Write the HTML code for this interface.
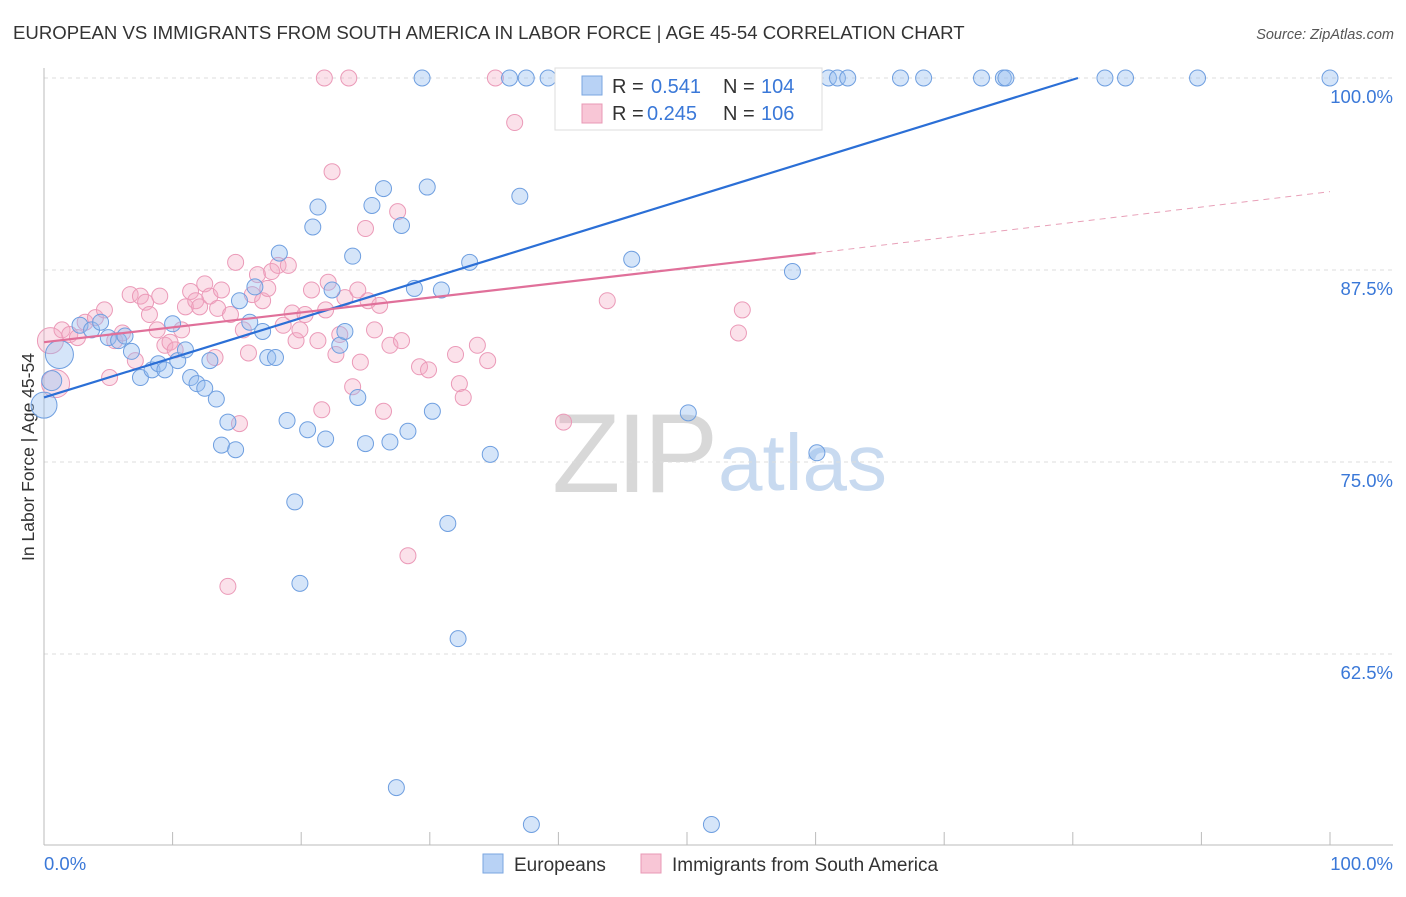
<!DOCTYPE html>
<html><head><meta charset="utf-8"><style>
body{margin:0;background:#fff;font-family:"Liberation Sans",sans-serif;}
svg text{font-family:"Liberation Sans",sans-serif;}
</style></head><body>
<svg id="chart" width="1406" height="892" viewBox="0 0 1406 892" xmlns="http://www.w3.org/2000/svg">
<text x="13" y="39" font-size="18.6" fill="#333">EUROPEAN VS IMMIGRANTS FROM SOUTH AMERICA IN LABOR FORCE | AGE 45-54 CORRELATION CHART</text>
<text x="1394" y="39" font-size="14.5" fill="#555" font-style="italic" text-anchor="end">Source: ZipAtlas.com</text>
<text transform="translate(34,457) rotate(-90)" font-size="17.5" fill="#333" text-anchor="middle">In Labor Force | Age 45-54</text>
<g>
<text x="552" y="492" font-size="112" fill="#d8d8d8" font-family="Liberation Serif" letter-spacing="-4">ZIP</text>
<text x="718" y="490" font-size="80" fill="#c8daf0">atlas</text>
</g>
<g id="grid"></g><g id="axes"></g><g id="pinkPts"></g><g id="bluePts"></g><g id="lines"></g>
<g>
<rect x="555" y="68" width="267" height="62" fill="#fff" stroke="#ddd"/>
<rect x="582" y="76" width="20" height="19" fill="#b8d2f5" stroke="#7aa6e0"/>
<text x="612" y="93" font-size="20" fill="#333">R = </text><text x="651" y="93" font-size="20" fill="#3a78d8">0.541</text>
<text x="723" y="93" font-size="20" fill="#333">N = </text><text x="761" y="93" font-size="20" fill="#3a78d8">104</text>
<rect x="582" y="104" width="20" height="19" fill="#f8c6d6" stroke="#e898b5"/>
<text x="612" y="120" font-size="20" fill="#333">R = </text><text x="647" y="120" font-size="20" fill="#3a78d8">0.245</text>
<text x="723" y="120" font-size="20" fill="#333">N = </text><text x="761" y="120" font-size="20" fill="#3a78d8">106</text>
</g>
<g>
<rect x="483" y="854" width="20" height="19" fill="#b8d2f5" stroke="#7aa6e0"/>
<text x="514" y="871" font-size="19" fill="#333">Europeans</text>
<rect x="641" y="854" width="20" height="19" fill="#f8c6d6" stroke="#e898b5"/>
<text x="672" y="871" font-size="19" fill="#333">Immigrants from South America</text>
</g>
</svg>
<script>
const yTicks=[100,87.5,75,62.5];
const yTickLabels=["100.0%","87.5%","75.0%","62.5%"];
const xTickLabels=["0.0%","100.0%"];
const blueX=[0,1.2,0.6,2.8,3.7,4.4,5.0,5.8,6.3,6.8,7.5,8.4,8.9,9.4,10.0,10.4,11.0,11.4,11.9,12.5,12.9,13.4,13.8,14.3,14.9,15.2,16.0,16.4,17.0,17.4,18.0,18.3,18.9,19.5,19.9,20.5,20.9,21.3,21.9,22.4,23.0,23.4,24.0,24.4,25.0,25.5,26.4,26.9,27.4,27.8,28.3,28.8,29.8,30.2,30.9,31.4,32.2,33.1,34.7,37.0,37.9,45.7,50.1,51.9,58.2,60.1,29.4,36.2,37.5,39.2,41.1,42.5,44.2,47.5,47.9,48.3,49.8,54.3,56.1,61.0,61.7,62.5,66.6,68.4,72.9,74.6,74.8,82.5,84.1,89.7,100];
const blueY=[78.7,82.0,80.3,83.9,83.6,84.1,83.1,82.9,83.2,82.2,80.5,81.0,81.4,81.0,84.0,81.6,82.3,80.5,80.1,79.8,81.6,79.1,76.1,77.6,75.8,85.5,84.1,86.4,83.5,81.8,81.8,88.6,77.7,72.4,67.1,77.1,90.3,91.6,76.5,86.2,82.6,83.5,88.4,79.2,76.2,91.7,92.8,76.3,53.8,90.4,77.0,86.3,92.9,78.3,86.2,71.0,63.5,88.0,75.5,92.3,51.4,88.2,78.2,51.4,87.4,75.6,100,100,100,100,100,100,100,100,100,100,100,100,100,100,100,100,100,100,100,100,100,100,100,100,100];
const blueR=[13,14,10];
const pinkX=[0.5,0.9,1.4,2.0,2.6,3.2,4.0,4.7,5.1,5.5,6.1,6.7,7.1,7.5,7.9,8.2,8.8,9.0,9.4,9.8,10.2,10.7,11.0,11.4,11.8,12.1,12.5,12.9,13.3,13.5,13.8,14.5,14.9,15.2,15.5,15.9,16.2,16.6,17.0,17.4,17.7,18.2,18.6,19.0,19.3,19.6,19.9,20.3,20.8,21.3,21.6,21.9,22.1,22.4,22.7,23.0,23.4,24.0,24.4,24.6,25.0,25.2,25.7,26.1,26.4,26.9,27.5,27.8,28.3,29.2,29.9,32.0,32.3,32.6,33.7,34.5,35.1,36.6,40.4,43.8,54.0,54.3,59.5,21.8,23.7,14.3];
const pinkY=[82.9,80.1,83.6,83.3,83.1,84.1,84.4,84.9,80.5,82.9,83.4,85.9,81.6,85.8,85.4,84.6,83.6,85.8,82.6,82.8,82.3,83.6,85.1,86.1,85.5,85.1,86.6,85.8,81.8,85.0,86.2,84.6,88.0,77.5,83.6,82.1,85.9,87.2,85.5,86.3,87.4,87.8,83.9,87.8,84.7,82.9,83.6,84.6,86.2,82.9,78.4,84.9,86.7,93.9,82.0,83.3,85.7,79.9,86.2,81.5,90.2,85.5,83.6,85.2,78.3,82.6,91.3,82.9,68.9,81.2,81.0,82.0,80.1,79.2,82.6,81.6,100,97.1,77.6,85.5,83.4,84.9,100,100,100,66.9];
const pinkR=[13,14];
const blueLine=[79.2,100,80.4];
const pinkLine=[82.8,88.6,60,92.6];
const NS="http://www.w3.org/2000/svg";
const X0=44,X1=1330,Y100=78,PX=15.36;
function sx(v){return X0+(X1-X0)*v/100;}
function sy(v){return Y100+(100-v)*PX;}
function mk(t,a,p){const e=document.createElementNS(NS,t);for(const k in a)e.setAttribute(k,a[k]);p.appendChild(e);return e;}
const grid=document.getElementById('grid'),axes=document.getElementById('axes');
yTicks.forEach((t,i)=>{
 const l=mk('line',{x1:X0,x2:1393,y1:sy(t),y2:sy(t),stroke:'#ddd','stroke-dasharray':'4,4'},grid);
 
 
 const tx=mk('text',{x:1393,y:sy(t)+25,'font-size':18.5,fill:'#3a78d8','text-anchor':'end'},axes);
 tx.textContent=yTickLabels[i];
 
 
});
const ax=mk('line',{x1:X0,x2:X0,y1:68,y2:845,stroke:'#bbb'},axes);


const bx=mk('line',{x1:X0,x2:1393,y1:845,y2:845,stroke:'#bbb'},axes);


for(let i=0;i<=10;i++){const t=mk('line',{x1:sx(i*10),x2:sx(i*10),y1:832,y2:845,stroke:'#bbb'},axes);
 
 }
[[0,'start'],[100,'end']].forEach((p,i)=>{const t=mk('text',{x:i?1393:X0,y:870,'font-size':18.5,fill:'#3a78d8','text-anchor':p[1]},axes);t.textContent=xTickLabels[i];
 
 });
const pg=document.getElementById('pinkPts');
pinkX.forEach((x,i)=>{const c=mk('circle',{cx:sx(x),cy:sy(pinkY[i]),r:pinkR[i]||8,fill:'rgba(244,168,196,0.35)',stroke:'#eb9ab8','stroke-width':1},pg);
 
 });
const bg=document.getElementById('bluePts');
blueX.forEach((x,i)=>{const c=mk('circle',{cx:sx(x),cy:sy(blueY[i]),r:blueR[i]||8,fill:'rgba(150,190,240,0.4)',stroke:'#6f9fe0','stroke-width':1},bg);
 
 });
const lg=document.getElementById('lines');
const bl=mk('line',{x1:sx(0),y1:sy(blueLine[0]),x2:sx(blueLine[2]),y2:sy(blueLine[1]),stroke:'#2b6fd6','stroke-width':2.2},lg);


const pl=mk('line',{x1:sx(0),y1:sy(pinkLine[0]),x2:sx(pinkLine[2]),y2:sy(pinkLine[1]),stroke:'#e0709a','stroke-width':2.2},lg);


const pd=mk('line',{x1:sx(pinkLine[2]),y1:sy(pinkLine[1]),x2:sx(100),y2:sy(pinkLine[3]),stroke:'#e8a0b8','stroke-width':1,'stroke-dasharray':'6,5'},lg);


</script>
</body></html>
